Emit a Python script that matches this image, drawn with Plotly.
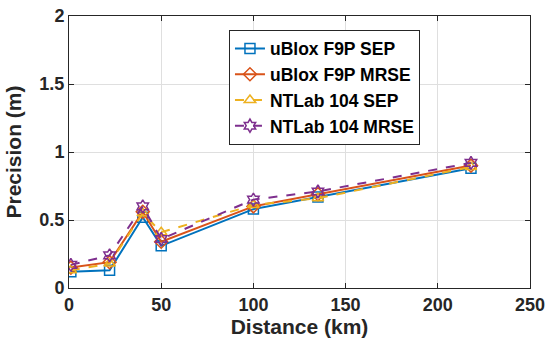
import plotly.graph_objects as go

distance = [1, 22, 40, 50, 100, 135, 218]
ublox_sep = [0.12, 0.13, 0.52, 0.31, 0.58, 0.67, 0.88]
ublox_mrse = [0.15, 0.19, 0.56, 0.34, 0.60, 0.69, 0.90]
ntlab_sep = [0.13, 0.18, 0.55, 0.41, 0.61, 0.66, 0.89]
ntlab_mrse = [0.17, 0.24, 0.60, 0.36, 0.65, 0.71, 0.92]

series = [
    ("uBlox F9P SEP", ublox_sep, "#0072BD", "solid", "square-open"),
    ("uBlox F9P MRSE", ublox_mrse, "#D95319", "solid", "diamond-open"),
    ("NTLab 104 SEP", ntlab_sep, "#EDB120", "dash", "triangle-up-open"),
    ("NTLab 104 MRSE", ntlab_mrse, "#7E2F8E", "dash", "hexagram-open"),
]

fig = go.Figure()
for name, vals, col, dash, sym in series:
    fig.add_trace(go.Scatter(
        x=distance, y=vals, name=name, mode="lines+markers",
        line=dict(color=col, width=2, dash=dash),
        marker=dict(symbol=sym, size=10, color=col, line=dict(width=1.5, color=col)),
    ))

axis_common = dict(
    showline=True, linecolor="#262626", linewidth=1, mirror="ticks",
    ticks="inside", ticklen=5, tickcolor="#262626",
    showgrid=True, gridcolor="#DFDFDF", gridwidth=1,
    zeroline=False, automargin=False,
    tickfont=dict(family="Liberation Sans", size=18, color="#262626", weight="bold"),
)

title_font = dict(family="Liberation Sans", size=21, color="#262626", weight="bold")

fig.update_layout(
    width=547, height=345,
    margin=dict(l=69, r=17, t=16, b=57),
    plot_bgcolor="white", paper_bgcolor="white",
    xaxis=dict(range=[0, 250], tickvals=[0, 50, 100, 150, 200, 250],
               title=dict(text="Distance (km)", font=title_font, standoff=5),
               **axis_common),
    yaxis=dict(range=[0, 2], tickvals=[0, 0.5, 1, 1.5, 2],
               ticktext=["0", "0.5", "1", "1.5", "2"],
               title=dict(text="Precision (m)", font=title_font, standoff=12),
               **axis_common),
    legend=dict(x=0.347, y=0.95, xanchor="left", yanchor="top",
                bgcolor="white", bordercolor="#262626", borderwidth=1,
                font=dict(family="Liberation Sans", size=17.5, color="black", weight="bold"),
                tracegroupgap=0),
    showlegend=True,
)

fig.write_html("out.html")
